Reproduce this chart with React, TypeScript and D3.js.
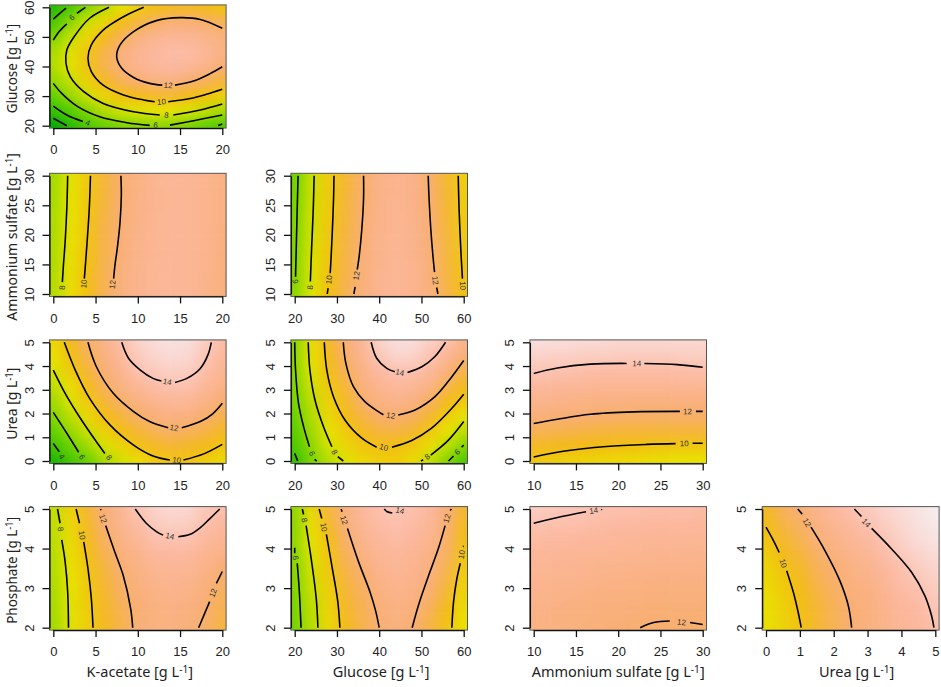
import React, { useEffect, useRef } from 'react';
import * as d3 from 'd3';

// axis names + ticks
const kAcetateTicks = [0, 5, 10, 15, 20];
const glucoseTicks = [20, 30, 40, 50, 60];
const sulfateTicks = [10, 15, 20, 25, 30];
const ureaTicks = [0, 1, 2, 3, 4, 5];
const phosphateTicks = [2, 3, 4, 5];

const xNames = ['K-acetate', 'Glucose', 'Ammonium sulfate', 'Urea'];
const yNames = ['Glucose', 'Ammonium sulfate', 'Urea', 'Phosphate'];

// yield, one list per column, top row first
const kaGlu = [
  [2.9, 4.2, 5.6, 6.8, 7, 6.3, 5, 3.5, 1.5],
  [4.3, 6.1, 7.5, 8.1, 8.3, 7.5, 6.4, 4.6, 3],
  [5.9, 7.7, 9, 9.9, 10, 9.3, 7.7, 5.9, 4.3],
  [7.2, 9, 10.4, 11.2, 11.4, 10.5, 9.1, 7.1, 5.1],
  [8.5, 10.2, 11.5, 12.2, 12.3, 11.5, 10, 7.9, 5.7],
  [9.5, 11.1, 12.4, 13, 13, 12, 10.3, 8.2, 5.9],
  [10.1, 11.8, 12.9, 13.5, 13.4, 12.5, 10.7, 8.4, 6],
  [10.5, 12.2, 13.2, 13.7, 13.6, 12.6, 10.8, 8.5, 6],
  [10.6, 12.2, 13.2, 13.7, 13.4, 12.1, 10.3, 8.1, 5.6],
  [10.4, 11.9, 12.9, 13.2, 12.9, 11.6, 9.9, 7.5, 5],
  [9.9, 11.5, 12.4, 12.7, 12.1, 11, 9.3, 6.8, 4.4],
];
const kaSul = [
  [6.6, 6.7, 6.7, 6.8, 6.8, 6.9, 6.9, 7, 7],
  [8.3, 8.3, 8.4, 8.4, 8.5, 8.5, 8.6, 8.7, 8.7],
  [9.7, 9.7, 9.8, 9.9, 9.9, 10, 10, 10.1, 10.1],
  [11, 11, 11.1, 11.2, 11.3, 11.3, 11.4, 11.5, 11.5],
  [12, 12, 12.1, 12.1, 12.2, 12.2, 12.3, 12.4, 12.4],
  [12.6, 12.6, 12.7, 12.7, 12.8, 12.8, 12.9, 12.9, 12.9],
  [13, 13, 13, 13.1, 13.1, 13.1, 13.2, 13.2, 13.2],
  [13.2, 13.2, 13.2, 13.2, 13.3, 13.3, 13.3, 13.4, 13.3],
  [13.2, 13.2, 13.2, 13.2, 13.2, 13.2, 13.2, 13.2, 13.2],
  [13, 13, 13, 13, 13, 13, 13, 12.9, 12.9],
  [12.6, 12.6, 12.6, 12.6, 12.5, 12.5, 12.5, 12.4, 12.4],
];
const gluSul = [
  [5.3, 5.4, 5.5, 5.6, 5.7, 5.7, 5.8, 5.9, 6],
  [7.7, 7.7, 7.8, 7.9, 7.9, 8, 8.1, 8.1, 8.2],
  [9.5, 9.6, 9.6, 9.7, 9.8, 9.8, 9.9, 10, 10.1],
  [10.9, 10.9, 11, 11, 11.1, 11.2, 11.2, 11.3, 11.4],
  [11.9, 11.9, 12, 12.1, 12.1, 12.2, 12.3, 12.3, 12.4],
  [12.7, 12.7, 12.8, 12.8, 12.9, 12.9, 12.9, 13, 13],
  [13, 13, 13.1, 13.1, 13.1, 13.1, 13.2, 13.2, 13.2],
  [12.8, 12.8, 12.8, 12.9, 12.9, 12.9, 13, 13, 13],
  [11.9, 12, 12, 12.1, 12.1, 12.2, 12.3, 12.3, 12.4],
  [10.8, 10.8, 10.9, 10.9, 11, 11.1, 11.1, 11.2, 11.3],
  [9.4, 9.4, 9.5, 9.6, 9.6, 9.7, 9.8, 9.9, 10],
];
const kaUrea = [
  [8.9, 8.5, 8, 7.3, 6.6, 5.8, 5, 3.9, 2.5],
  [10.4, 10, 9.5, 8.7, 8.1, 7.3, 6.4, 5.3, 4],
  [11.8, 11.4, 10.9, 10.3, 9.7, 8.9, 7.7, 6.5, 5.2],
  [12.8, 12.5, 12.2, 11.6, 10.9, 10.2, 9.3, 8, 6.7],
  [13.8, 13.4, 13, 12.5, 11.8, 11, 10.2, 9.1, 7.8],
  [14.6, 14.3, 13.9, 13.2, 12.5, 11.8, 10.9, 10, 8.7],
  [15, 14.7, 14.3, 13.7, 13, 12.3, 11.5, 10.6, 9.6],
  [15.2, 14.9, 14.5, 13.9, 13.3, 12.6, 11.8, 10.9, 9.9],
  [15.1, 14.8, 14.4, 13.9, 13.2, 12.4, 11.6, 10.7, 9.9],
  [14.4, 14.1, 13.8, 13.3, 12.7, 12, 11.2, 10.4, 9.5],
  [13.7, 13.4, 13.1, 12.6, 12, 11.3, 10.6, 9.9, 8.9],
];
const gluUrea = [
  [6, 6, 5.9, 5.7, 5.5, 5.2, 4.8, 4.3, 3.5],
  [8.7, 8.5, 8.2, 7.8, 7.4, 7, 6.6, 6.2, 5.6],
  [10.6, 10.4, 10.1, 9.7, 9.3, 8.9, 8.4, 7.9, 7.2],
  [12.1, 11.9, 11.5, 11, 10.6, 10.2, 9.6, 9, 8.1],
  [13.2, 13, 12.7, 12.3, 11.9, 11.2, 10.5, 9.9, 9],
  [14.6, 14.1, 13.6, 13, 12.5, 11.9, 11.1, 10.1, 9.4],
  [15.1, 14.7, 14, 13.4, 12.8, 12, 11.2, 10.1, 9.5],
  [15, 14.6, 13.9, 13.3, 12.5, 11.7, 10.8, 9.7, 8.8],
  [14.5, 14, 13.4, 12.6, 11.7, 10.8, 9.8, 8.7, 7.5],
  [13.9, 13.1, 12.3, 11.4, 10.4, 9.5, 8.5, 7.3, 5.9],
  [12.8, 12.1, 11.2, 10.4, 9.6, 8.5, 7.3, 5.9, 4.3],
];
const sulUrea = [
  [15.1, 14.6, 14.1, 13.5, 12.9, 12.3, 11.5, 10.6, 9.7],
  [15, 14.5, 14, 13.4, 12.8, 12.2, 11.4, 10.5, 9.5],
  [15, 14.5, 13.9, 13.3, 12.7, 12.1, 11.3, 10.4, 9.3],
  [14.9, 14.4, 13.8, 13.2, 12.6, 12, 11.2, 10.3, 9.2],
  [14.9, 14.4, 13.7, 13.1, 12.5, 11.9, 11.1, 10.2, 9],
  [14.8, 14.3, 13.7, 13.1, 12.5, 11.9, 11, 10.1, 8.9],
  [14.8, 14.3, 13.7, 13.1, 12.4, 11.8, 11, 10, 8.8],
  [14.8, 14.3, 13.7, 13.1, 12.4, 11.8, 11, 9.9, 8.7],
  [14.8, 14.3, 13.7, 13.1, 12.4, 11.8, 11, 9.9, 8.6],
  [14.8, 14.4, 13.8, 13.1, 12.4, 11.8, 11, 9.8, 8.5],
  [14.8, 14.4, 13.8, 13.1, 12.4, 11.8, 11, 9.8, 8.5],
];
const kaPho = [
  [7.4, 7.3, 7.2, 7.1, 7, 6.9, 6.8, 6.7, 6.6],
  [9.2, 9, 8.8, 8.6, 8.5, 8.4, 8.3, 8.2, 8.2],
  [10.9, 10.6, 10.4, 10.1, 9.9, 9.7, 9.6, 9.5, 9.4],
  [12.2, 12, 11.7, 11.4, 11.1, 10.9, 10.7, 10.6, 10.5],
  [13.1, 12.9, 12.7, 12.3, 12.1, 11.8, 11.6, 11.4, 11.3],
  [14.1, 13.7, 13.3, 12.9, 12.6, 12.4, 12.2, 12.1, 12.2],
  [14.6, 14.3, 13.9, 13.5, 13.1, 12.8, 12.6, 12.4, 12.4],
  [14.9, 14.5, 14, 13.6, 13.2, 13, 12.8, 12.6, 12.5],
  [14.8, 14.4, 14, 13.6, 13.2, 12.9, 12.7, 12.5, 12.3],
  [14.2, 13.9, 13.5, 13.1, 12.8, 12.5, 12.2, 12, 11.8],
  [13.9, 13.5, 13.1, 12.7, 12.1, 11.8, 11.5, 11.3, 11.1],
];
const gluPho = [
  [6.2, 6.1, 6.1, 6, 5.9, 5.8, 5.7, 5.6, 5.5],
  [8.9, 8.7, 8.5, 8.2, 7.9, 7.7, 7.5, 7.3, 7.2],
  [11, 10.7, 10.2, 9.9, 9.7, 9.5, 9.3, 9.1, 9],
  [12.4, 12.2, 11.9, 11.6, 11.3, 11, 10.8, 10.6, 10.4],
  [13.4, 13.2, 12.9, 12.6, 12.1, 11.8, 11.6, 11.4, 11.3],
  [13.9, 13.7, 13.5, 13.2, 13, 12.7, 12.4, 12.2, 12],
  [14.1, 13.9, 13.7, 13.4, 13.2, 13, 12.8, 12.6, 12.4],
  [13.9, 13.7, 13.5, 13.2, 13, 12.8, 12.6, 12.3, 12],
  [13.5, 13.3, 13, 12.7, 12.5, 12.2, 11.9, 11.5, 11.2],
  [12.2, 12, 11.9, 11.7, 11.4, 11.1, 10.7, 10.3, 10],
  [10.8, 10.5, 10.2, 9.9, 9.6, 9.3, 9, 8.7, 8.5],
];
const sulPho = [
  [14.4, 14, 13.7, 13.4, 13.2, 13, 12.9, 12.7, 12.6],
  [14.3, 13.9, 13.6, 13.4, 13.1, 12.9, 12.8, 12.6, 12.5],
  [14.2, 13.9, 13.6, 13.3, 13.1, 12.9, 12.7, 12.5, 12.4],
  [14.1, 13.8, 13.5, 13.2, 13, 12.8, 12.6, 12.4, 12.3],
  [14, 13.7, 13.4, 13.2, 12.9, 12.7, 12.5, 12.3, 12.2],
  [13.9, 13.6, 13.4, 13.1, 12.9, 12.6, 12.5, 12.3, 12.1],
  [13.9, 13.6, 13.3, 13.1, 12.8, 12.6, 12.4, 12.2, 12],
  [13.8, 13.5, 13.3, 13, 12.8, 12.5, 12.3, 12.1, 11.9],
  [13.8, 13.5, 13.2, 13, 12.7, 12.5, 12.3, 12.1, 11.9],
  [13.8, 13.5, 13.2, 12.9, 12.7, 12.5, 12.3, 12.1, 11.9],
  [13.7, 13.4, 13.2, 12.9, 12.7, 12.5, 12.3, 12.1, 11.9],
];
const ureaPho = [
  [10.6, 10.2, 9.8, 9.4, 9.1, 8.9, 8.7, 8.6, 8.6],
  [11.6, 11.2, 10.8, 10.4, 9.9, 9.6, 9.4, 9.3, 9.2],
  [12.1, 11.7, 11.4, 11, 10.7, 10.4, 10.2, 10.1, 10],
  [12.9, 12.5, 12.2, 11.8, 11.5, 11.3, 11, 10.9, 10.8],
  [13.5, 13.1, 12.7, 12.4, 12, 11.8, 11.6, 11.5, 11.4],
  [13.9, 13.5, 13.2, 12.8, 12.6, 12.4, 12.2, 12, 12],
  [14.3, 14, 13.6, 13.2, 12.9, 12.7, 12.5, 12.4, 12.4],
  [14.7, 14.4, 14.1, 13.8, 13.5, 13.2, 13, 12.9, 12.9],
  [15, 14.8, 14.6, 14.3, 13.9, 13.8, 13.6, 13.4, 13.3],
  [15.3, 15.2, 15, 14.7, 14.4, 14.1, 13.8, 13.6, 13.5],
  [15.8, 15.6, 15.3, 15, 14.7, 14.5, 14.3, 14.1, 13.9],
];

// contour traces as [x, y] in data units; the breaks are where R put the label
type Contour = { level: number; parts: number[][][]; label?: number[] };

const kaGluLines: Contour[] = [
  { level: 12, label: [13.6, 33.7], parts: [[[20, 52.9], [17.4, 55.9], [15, 56.5], [12.2, 55.5], [9.5, 51.8], [7.9, 47.3], [7.5, 43.3], [8.1, 39.4], [9.5, 36.3], [11.4, 34.3], [12.9, 33.7]], [[14.4, 33.7], [16.6, 35.1], [18.5, 37.5], [20, 39.9]]] },
  { level: 10, label: [12.8, 28.1], parts: [[[10.7, 60], [8.3, 56.8], [5.9, 52.3], [4.5, 47.3], [4.1, 42.8], [4.5, 38.3], [5.9, 33.7], [8.3, 30.4], [10.7, 28.7], [12, 28.1]], [[13.6, 28.1], [16.2, 29.2], [18.1, 30.6], [20, 32.3]]] },
  { level: 8, label: [13.4, 23.6], parts: [[[6.6, 60], [4.3, 56.3], [2.6, 50.6], [1.6, 45.6], [1.5, 41.1], [2, 36.6], [3.6, 31.5], [5.9, 27.5], [9.5, 24.7], [12.6, 23.6]], [[14.2, 23.6], [17.4, 25.3], [20, 27.3]]] },
  { level: 6, label: [2.2, 56.6], parts: [[[0, 48.9], [0.7, 51.8], [1.6, 54.4]], [[2.8, 58], [3.8, 60]]] },
  { level: 6, label: [12.1, 20.2], parts: [[[0, 34.3], [1, 30.9], [2.8, 26.6], [5.5, 23], [8.7, 21], [11.4, 20.1]], [[13.8, 20.2], [16.6, 21.7], [20, 23.6]]] },
  { level: 4, parts: [[[0, 56], [0.8, 58], [1.5, 59.7]]] },
  { level: 4, label: [4.1, 21], parts: [[[0, 26.6], [1.6, 23.6], [3.5, 21.4]]] },
  { level: 4, parts: [[[19.5, 20.1], [20, 20.6]]] },
  { level: 2, parts: [[[0, 22.5], [1.6, 20]]] },
];
const kaSulLines: Contour[] = [
  { level: 8, label: [1.03, 11.1], parts: [[[1.7, 30], [1.6, 24.5], [1.4, 18.8], [1.2, 14.9], [1.07, 12]]] },
  { level: 10, label: [3.6, 11.7], parts: [[[4.4, 30], [4.26, 24.5], [4, 18.8], [3.8, 14.9], [3.67, 12.6]]] },
  { level: 12, label: [7, 11.6], parts: [[[8, 30], [8.05, 26.7], [7.9, 22.2], [7.57, 17.7], [7.3, 14.9], [7.14, 12.6]]] },
];
const gluSulLines: Contour[] = [
  { level: 6, label: [20.1, 12.1], parts: [[[20.8, 30], [20.6, 24.5], [20.4, 18.8], [20.2, 12.9]]] },
  { level: 8, label: [23.6, 11.1], parts: [[[24.6, 30], [24.4, 24.5], [24, 17.7], [23.7, 12.1]]] },
  { level: 10, label: [28.1, 12.4], parts: [[[29.3, 30], [29.2, 26.2], [28.9, 20.5], [28.6, 16], [28.4, 13.5]], [[27.9, 11], [27.7, 10]]] },
  { level: 12, label: [34.6, 13.1], parts: [[[36.3, 30], [36.3, 26.2], [35.9, 21.1], [35.3, 16.6], [34.8, 14.1]], [[34.3, 11.2], [34, 10]]] },
  { level: 12, label: [53.3, 12.3], parts: [[[51.6, 30], [51.8, 26.2], [52.2, 21.1], [52.7, 16.6], [53.1, 13.7]], [[53.6, 11.1], [53.9, 10]]] },
  { level: 10, label: [59.8, 11.4], parts: [[[58.7, 30], [58.9, 24.5], [59.3, 17.7], [59.7, 12.6]]] },
];
const kaUreaLines: Contour[] = [
  { level: 4, label: [1, 0.18], parts: [[[0, 0.74], [0.7, 0.39]]] },
  { level: 6, label: [3.4, 0.17], parts: [[[0, 2.05], [1.6, 1.17], [3, 0.37]]] },
  { level: 8, label: [6.6, 0.15], parts: [[[0, 3.83], [1.4, 2.85], [3.2, 1.8], [5.1, 0.81], [6.1, 0.32]]] },
  { level: 10, label: [14.6, 0.04], parts: [[[1.3, 5], [2.6, 3.83], [4.3, 2.64], [6.7, 1.52], [9.5, 0.67], [11.8, 0.21], [13.8, 0.04]], [[15.4, 0.04], [17.8, 0.3], [20, 0.7]]] },
  { level: 12, label: [14.3, 1.4], parts: [[[4.1, 5], [5.1, 3.97], [7.1, 2.85], [9.5, 2.08], [11.4, 1.66], [13.6, 1.4]], [[15.2, 1.4], [17.4, 1.66], [18.9, 2], [20, 2.43]]] },
  { level: 14, label: [13.5, 3.34], parts: [[[8.1, 5], [8.9, 4.33], [10.3, 3.83], [11.8, 3.48], [12.8, 3.37]], [[14.4, 3.31], [15.8, 3.48], [17.4, 3.9], [18.3, 4.47], [18.7, 5]]] },
];
const gluUreaLines: Contour[] = [
  { level: 4, parts: [[[20, 0.32], [20.7, 0]]] },
  { level: 6, label: [24.1, 0.32], parts: [[[20, 5], [20.2, 3.83], [20.9, 2.43], [22.1, 1.45], [23.5, 0.6]], [[24.7, 0.07], [25.2, 0]]] },
  { level: 8, label: [29.4, 0.38], parts: [[[23.2, 5], [23.6, 3.83], [24.8, 2.57], [26.8, 1.45], [28.8, 0.6]], [[30.2, 0.18], [31.5, 0]]] },
  { level: 10, label: [41.1, 0.58], parts: [[[27, 5], [27.6, 3.83], [29.2, 2.7], [31.9, 1.73], [35.9, 0.96], [39.4, 0.58]], [[43, 0.58], [47.7, 0.86], [52.4, 1.38], [57.2, 2.22], [60, 2.81]]] },
  { level: 12, label: [42.7, 1.92], parts: [[[31.5, 5], [32.1, 4.12], [33.9, 3.13], [36.6, 2.5], [39.8, 2.08], [41, 1.95]], [[44.5, 1.94], [48.5, 2.15], [53.2, 2.71], [57.2, 3.55], [60, 4.23]]] },
  { level: 14, label: [44.9, 3.73], parts: [[[38.1, 5], [39.4, 4.33], [41.8, 3.9], [43.7, 3.76]], [[46.7, 3.73], [50.1, 3.97], [53.2, 4.4], [55.7, 5]]] },
  { level: 8, label: [51.4, 0.18], parts: [[[49.9, 0], [50.4, 0.05]], [[52.2, 0.25], [56.4, 0.88], [60, 1.66]]] },
  { level: 6, label: [58.5, 0.38], parts: [[[56.4, 0], [57.6, 0.21]], [[59.5, 0.58], [60, 0.67]]] },
];
const sulUreaLines: Contour[] = [
  { level: 14, label: [22.2, 4.11], parts: [[[10, 3.69], [12.8, 3.92], [16.7, 4.08], [21, 4.11]], [[23.1, 4.11], [27, 4.06], [30, 3.95]]] },
  { level: 12, label: [28.2, 2.09], parts: [[[10, 1.58], [12.8, 1.76], [16.7, 1.97], [21.8, 2.07], [27.3, 2.09]], [[29.2, 2.09], [30, 2.09]]] },
  { level: 10, label: [27.8, 0.74], parts: [[[10, 0.17], [13.5, 0.41], [18.6, 0.61], [23.4, 0.7], [26.8, 0.73]], [[28.8, 0.75], [30, 0.75]]] },
];
const kaPhoLines: Contour[] = [
  { level: 8, label: [0.87, 4.49], parts: [[[0.5, 5], [0.8, 4.64]], [[1, 4.22], [1.4, 3.67], [1.7, 2.91], [1.8, 2]]] },
  { level: 10, label: [3.4, 4.34], parts: [[[2.7, 5], [3.1, 4.64]], [[3.6, 4.17], [4.1, 3.5], [4.5, 2.74], [4.7, 2]]] },
  { level: 12, label: [5.9, 4.76], parts: [[[5.6, 5], [5.64, 4.97]], [[6.2, 4.58], [7.3, 3.9], [8.26, 3.33], [9.15, 2.49], [9.4, 2]]] },
  { level: 14, label: [13.8, 4.32], parts: [[[9.7, 5], [11, 4.64], [12.2, 4.43], [13, 4.34]], [[14.8, 4.3], [16.2, 4.36], [17.4, 4.53], [18.5, 4.75], [19.7, 5]]] },
  { level: 12, label: [18.9, 2.88], parts: [[[17.2, 2], [18.5, 2.66]], [[19.3, 3.12], [20, 3.42]]] },
];
const gluPhoLines: Contour[] = [
  { level: 6, label: [20.2, 3.77], parts: [[[20, 4.02], [20, 3.88]], [[20.6, 3.63], [21.1, 2.91], [21.5, 2]]] },
  { level: 8, label: [22.3, 4.72], parts: [[[21.8, 5], [22.1, 4.86]], [[22.7, 4.58], [24, 3.67], [25.1, 2.74], [25.5, 2]]] },
  { level: 10, label: [26.9, 4.54], parts: [[[25.8, 5], [26.4, 4.76]], [[27.5, 4.36], [28.9, 3.5], [30.2, 2.66], [30.7, 2]]] },
  { level: 12, label: [31.7, 4.72], parts: [[[31, 5], [31.2, 4.93]], [[32.5, 4.51], [35.1, 3.67], [37.8, 2.91], [39.1, 2.45], [40, 2]]] },
  { level: 14, label: [44.9, 4.96], parts: [[[41.2, 5], [41.9, 4.93], [43.1, 4.9]]] },
  { level: 12, label: [56, 4.76], parts: [[[47.8, 2], [49.3, 2.57], [51.6, 3.29], [54, 4], [55.6, 4.58]], [[56.8, 4.96], [57.1, 5]]] },
  { level: 10, label: [59.5, 3.85], parts: [[[57.2, 2], [57.6, 2.66], [58.4, 3.25], [59.2, 3.63]], [[59.8, 4.05], [60, 4.06]]] },
];
const sulPhoLines: Contour[] = [
  { level: 14, label: [17.1, 4.96], parts: [[[10, 4.64], [12.7, 4.78], [16.2, 4.93]], [[18, 4.98], [18.1, 4.99]]] },
  { level: 12, label: [27.5, 2.14], parts: [[[22.6, 2], [24.2, 2.13], [26.1, 2.17]], [[28.5, 2.13], [30, 2.08]]] },
];
const ureaPhoLines: Contour[] = [
  { level: 10, label: [0.51, 3.63], parts: [[[0, 4.54], [0.22, 4.2], [0.39, 3.9]], [[0.61, 3.44], [0.81, 2.89], [0.95, 2.39], [1.04, 2]]] },
  { level: 12, label: [1.21, 4.66], parts: [[[0.94, 5], [1.07, 4.87]], [[1.33, 4.54], [1.74, 3.95], [2.18, 3.19], [2.43, 2.56], [2.53, 2]]] },
  { level: 14, label: [2.96, 4.65], parts: [[[2.61, 5], [2.82, 4.81]], [[3.12, 4.51], [3.71, 3.99], [4.3, 3.4], [4.69, 2.81], [4.89, 2.3], [4.96, 2]]] },
];

// terrain-like ramp, checked by eye against the tiles
const colorLevels = [1.5, 5, 8.4, 10.3, 12, 13.6, 15, 16];
const colorStops = ['#00aa00', '#60d000', '#e8e400', '#f3bb14', '#f8ae72', '#fcb8a0', '#fadcd8', '#f2f2f2'];

const colRanges = [[53.3, 222.3], [294.7, 463.7], [533.7, 702.7], [766, 935.3]];
const rowRanges = [[125.7, 7.3], [294, 175.7], [461, 342.3], [627.7, 509]];
const xTicks = [kAcetateTicks, glucoseTicks, sulfateTicks, ureaTicks];
const yTicks = [glucoseTicks, sulfateTicks, ureaTicks, phosphateTicks];
// the source image is a bit squashed along its y titles
const yTitleScale = [0.925, 0.97, 0.96, 0.925];

const panels = [
  { col: 0, row: 0, grid: kaGlu, lines: kaGluLines },
  { col: 0, row: 1, grid: kaSul, lines: kaSulLines },
  { col: 1, row: 1, grid: gluSul, lines: gluSulLines },
  { col: 0, row: 2, grid: kaUrea, lines: kaUreaLines },
  { col: 1, row: 2, grid: gluUrea, lines: gluUreaLines },
  { col: 2, row: 2, grid: sulUrea, lines: sulUreaLines },
  { col: 0, row: 3, grid: kaPho, lines: kaPhoLines },
  { col: 1, row: 3, grid: gluPho, lines: gluPhoLines },
  { col: 2, row: 3, grid: sulPho, lines: sulPhoLines },
  { col: 3, row: 3, grid: ureaPho, lines: ureaPhoLines },
];

const tickFont = '"Liberation Sans", Arial, sans-serif';
const titleFont = '"Noto Sans", sans-serif';

const addTitle = (text, name) => {
  text.append('tspan').text(`${name} [g L`);
  text.append('tspan').attr('dy', '-0.4em').attr('font-size', '0.7em').text('-1');
  text.append('tspan').attr('dy', '0.28em').text(']');
};

// direction of the trace next to the label, in degrees, kept upright
const labelAngle = (pts, at, x, y) => {
  const px = pts.map((p) => [x(p[0]), y(p[1])]);
  const ax = x(at[0]);
  const ay = y(at[1]);
  let best = 0;
  px.forEach((p, i) => {
    if (Math.hypot(p[0] - ax, p[1] - ay) < Math.hypot(px[best][0] - ax, px[best][1] - ay)) best = i;
  });
  const a = px[Math.max(best - 1, 0)];
  const b = px[Math.min(best + 1, px.length - 1)];
  let deg = (Math.atan2(b[1] - a[1], b[0] - a[0]) * 180) / Math.PI;
  if (deg > 90) deg -= 180;
  if (deg < -90) deg += 180;
  return deg;
};

const App = () => {
  const ref = useRef<SVGSVGElement | null>(null);

  useEffect(() => {
    const svg = d3.select(ref.current);
    svg.selectAll('*').remove();

    const color = d3.scaleLinear<string>().domain(colorLevels).range(colorStops).clamp(true);

    svg.append('defs')
      .append('filter')
      .attr('id', 'soft')
      .attr('filterUnits', 'userSpaceOnUse')
      .attr('x', 0).attr('y', 0).attr('width', 941).attr('height', 687)
      .attr('color-interpolation-filters', 'sRGB')
      .append('feGaussianBlur')
      .attr('stdDeviation', '6.5 5.5');

    panels.forEach((p, idx) => {
      const tx = xTicks[p.col];
      const ty = yTicks[p.row];
      const x = d3.scaleLinear().domain([tx[0], tx[tx.length - 1]]).range(colRanges[p.col]);
      const y = d3.scaleLinear().domain([ty[0], ty[ty.length - 1]]).range(rowRanges[p.row]);
      const [x0, x1] = colRanges[p.col];
      const [yb, yt] = rowRanges[p.row];
      const box = { left: x0 - 3.8, right: x1 + 3.8, top: yt - 2.4, bottom: yb + 2.4 };

      const g = svg.append('g');

      svg.select('defs')
        .append('clipPath')
        .attr('id', `clip${idx}`)
        .append('rect')
        .attr('x', box.left).attr('y', box.top)
        .attr('width', box.right - box.left).attr('height', box.bottom - box.top);

      // tiles, outer ones run on past the box so the blur does not fade at the edge
      const nCols = p.grid.length;
      const nRows = p.grid[0].length;
      const colX = d3.scaleLinear().domain([0, nCols - 1]).range([x0, x1]);
      const rowY = d3.scaleLinear().domain([0, nRows - 1]).range([yt, yb]);
      const cw = (x1 - x0) / (nCols - 1);
      const ch = (yb - yt) / (nRows - 1);
      const tiles = g.append('g').attr('clip-path', `url(#clip${idx})`).append('g').attr('filter', 'url(#soft)');
      p.grid.forEach((column, i) => {
        column.forEach((v, j) => {
          const l = colX(i) - cw / 2 - (i === 0 ? 30 : 0);
          const r = colX(i) + cw / 2 + (i === nCols - 1 ? 30 : 0) + 0.5;
          const t = rowY(j) - ch / 2 - (j === 0 ? 30 : 0);
          const b = rowY(j) + ch / 2 + (j === nRows - 1 ? 30 : 0) + 0.5;
          tiles.append('rect')
            .attr('x', l).attr('y', t)
            .attr('width', r - l).attr('height', b - t)
            .attr('fill', color(v));
        });
      });

      // contours
      const line = d3.line().x((d) => x(d[0])).y((d) => y(d[1])).curve(d3.curveCatmullRom.alpha(0.5));
      const overlay = g.append('g').attr('clip-path', `url(#clip${idx})`);
      p.lines.forEach((c) => {
        c.parts.forEach((part) => {
          overlay.append('path')
            .attr('d', line(part))
            .attr('fill', 'none')
            .attr('stroke', '#000')
            .attr('stroke-width', 1.6);
        });
        if (c.label) {
          const deg = labelAngle(c.parts.flat(), c.label, x, y);
          g.append('text')
            .attr('transform', `translate(${x(c.label[0])},${y(c.label[1])}) rotate(${deg})`)
            .attr('text-anchor', 'middle')
            .attr('dy', '0.35em')
            .attr('font-family', tickFont)
            .attr('font-size', 8)
            .attr('fill', '#333')
            .text(c.level);
        }
      });

      g.append('rect')
        .attr('x', box.left).attr('y', box.top)
        .attr('width', box.right - box.left).attr('height', box.bottom - box.top)
        .attr('fill', 'none')
        .attr('stroke', '#555')
        .attr('stroke-width', 1);

      // axes, R style: the line only runs between first and last tick
      const xAxis = g.append('g')
        .attr('transform', `translate(0,${box.bottom})`)
        .call(d3.axisBottom(x).tickValues(tx).tickFormat(d3.format('d')).tickSize(7).tickSizeOuter(0).tickPadding(10));
      const yAxis = g.append('g')
        .attr('transform', `translate(${box.left},0)`)
        .call(d3.axisLeft(y).tickValues(ty).tickFormat(d3.format('d')).tickSize(7).tickSizeOuter(0).tickPadding(0));
      [xAxis, yAxis].forEach((a) => {
        a.selectAll('path, line').attr('stroke', '#111').attr('stroke-width', 1.3);
        a.selectAll('text').attr('font-family', tickFont).attr('font-size', 13).attr('fill', '#222');
      });
      yAxis.selectAll('text')
        .attr('x', null).attr('dy', null)
        .attr('text-anchor', 'middle')
        .attr('transform', 'translate(-16,0) rotate(-90)');

      // titles go on the left column and bottom row only
      if (p.col === 0) {
        const t = g.append('text')
          .attr('transform', `translate(17,${(box.top + box.bottom) / 2 + 2}) rotate(-90) scale(${yTitleScale[p.row]},1)`)
          .attr('text-anchor', 'middle')
          .attr('font-family', titleFont)
          .attr('font-size', 14.5)
          .attr('fill', '#222');
        addTitle(t, yNames[p.row]);
      }
      if (p.row === 3) {
        const t = g.append('text')
          .attr('x', (box.left + box.right) / 2 + (p.col === 3 ? 6 : p.col === 2 ? 0 : 2))
          .attr('y', 677)
          .attr('text-anchor', 'middle')
          .attr('font-family', titleFont)
          .attr('font-size', 14.5)
          .attr('fill', '#222');
        addTitle(t, xNames[p.col]);
      }
    });
  }, []);

  return <svg ref={ref} width={941} height={687} style={{ position: 'absolute', left: 0, top: 0, background: '#fff' }} />;
};

export default App;
